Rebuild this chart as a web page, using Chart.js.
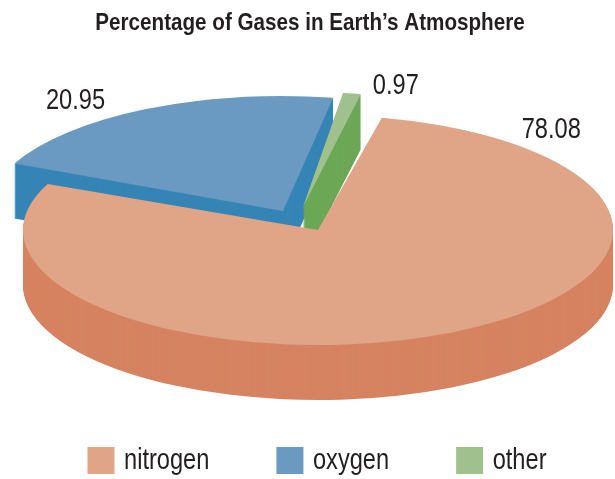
<!DOCTYPE html>
<html><head><meta charset="utf-8">
<style>html,body{margin:0;padding:0;background:#fff}#w{width:615px;height:479px}</style>
<script src="https://cdn.jsdelivr.net/npm/chart.js@4"></script>
</head><body><div id="w"><canvas id="c" width="615" height="479"></canvas></div>
<script>
const categories = ['nitrogen', 'oxygen', 'other'];
const values = [78.08, 20.95, 0.97];
const topColors = ['#E0A487', '#6A9AC2', '#A0C08E'];
const sideColors = ['#D68361', '#3585B6', '#6CA856'];
const valueLabels = ['78.08', '20.95', '0.97'];

// 3D projection of the pie: centre on the page, squash, extrusion depth, slice pull-outs
const view = {cx: 318, cy: 230, squash: 115 / 295, depth: 55};
const pull = [[0, 0], [-35, -19], [-15, -23]];
const turn = [0, 0.8, -1.2];
const labelAt = [[0.106, 1.175], [0.40, 1.19], [2.2, 1.095]];
const order = [1, 2, 0];

// Condensed lettering: no narrow face is installed, so text is narrowed horizontally
const canvas = document.getElementById('c');
const ctx0 = canvas.getContext('2d');
const rawFill = ctx0.fillText.bind(ctx0);
const rawMeasure = ctx0.measureText.bind(ctx0);
const narrow = () => ctx0.font.includes('bold') ? 0.86 : 0.815;
ctx0.fillText = function (t, x, y) {
  const s = narrow();
  ctx0.save();
  ctx0.translate(ctx0.textAlign === 'left' ? x - 5 : x, y);
  ctx0.scale(s, 1);
  rawFill(t, 0, 0);
  ctx0.restore();
};
ctx0.measureText = function (t) {
  const m = rawMeasure(t);
  return {width: m.width * narrow(), actualBoundingBoxAscent: m.actualBoundingBoxAscent, actualBoundingBoxDescent: m.actualBoundingBoxDescent};
};

const pie3d = {
  id: 'pie3d',
  beforeDatasetsDraw(chart) {
    const ctx = chart.ctx;
    const arcs = chart.getDatasetMeta(0).data;
    const place = (a, i, dy) => {
      ctx.translate(view.cx + pull[i][0], view.cy + pull[i][1] + dy);
      ctx.scale(1, view.squash);
      ctx.rotate(turn[i] * Math.PI / 180);
      ctx.translate(-a.x, -a.y);
    };
    order.forEach(i => {
      const a = arcs[i];
      const top = a.options.backgroundColor;
      for (let d = view.depth; d >= 1; d--) {
        ctx.save();
        place(a, i, d);
        a.options.backgroundColor = sideColors[i];
        a.draw(ctx);
        ctx.restore();
      }
      ctx.save();
      place(a, i, 0);
      a.options.backgroundColor = top;
      a.draw(ctx);
      ctx.restore();
    });
    // value labels
    ctx.save();
    ctx.font = '29px "Liberation Sans"';
    ctx.fillStyle = '#231F20';
    ctx.textAlign = 'center';
    ctx.textBaseline = 'middle';
    arcs.forEach((a, i) => {
      const ang = a.startAngle + (a.endAngle - a.startAngle) * labelAt[i][0];
      const r = a.outerRadius * labelAt[i][1];
      ctx.fillText(valueLabels[i],
        view.cx + pull[i][0] + Math.cos(ang) * r,
        view.cy + pull[i][1] + Math.sin(ang) * r * view.squash);
    });
    ctx.restore();
    return false;
  },
  afterLayout(chart) {
    chart.titleBlock.left += 2.5;
    chart.titleBlock.right += 2.5;
    chart.legend.left += 12;
    chart.legend.right += 12;
    chart.legend.top += 12;
    chart.legend.bottom += 12;
  }
};

new Chart(canvas, {
  type: 'pie',
  data: {
    labels: categories,
    datasets: [{
      data: values,
      backgroundColor: topColors,
      borderWidth: 0,
      radius: 295,
      rotation: 12.5
    }]
  },
  options: {
    responsive: false,
    animation: false,
    layout: {padding: {top: 9, bottom: 6}},
    plugins: {
      tooltip: {enabled: false},
      title: {
        display: true,
        text: 'Percentage of Gases in Earth\u2019s Atmosphere',
        color: '#231F20',
        font: {family: '"Liberation Sans"', size: 24, weight: 'bold'},
        padding: {top: 0, bottom: 10}
      },
      legend: {
        position: 'bottom',
        labels: {
          boxWidth: 27, boxHeight: 27,
          color: '#231F20',
          font: {family: '"Liberation Sans"', size: 29},
          padding: 62
        }
      }
    }
  },
  plugins: [pie3d]
});
</script></body></html>
